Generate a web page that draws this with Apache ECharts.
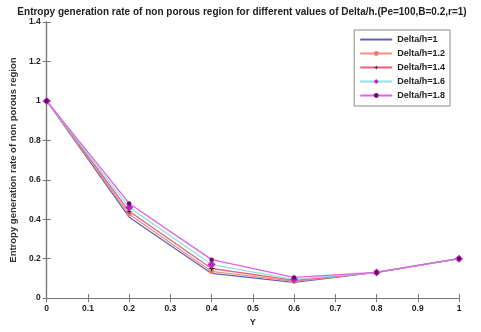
<!DOCTYPE html>
<html>
<head>
<meta charset="utf-8">
<script src="https://cdn.jsdelivr.net/npm/echarts@6/dist/echarts.min.js"></script>
<style>
  html, body { margin: 0; padding: 0; background: #fff; }
  #chart { width: 481px; height: 332px; }
</style>
</head>
<body>
<div id="chart"></div>
<script>
// Y positions sampled along the channel
const yPositions = [0, 0.2, 0.4, 0.6, 0.8, 1];

// Entropy generation rate for each Delta/h value
const ratio1_0 = [1, 0.41, 0.125, 0.080, 0.13, 0.2];
const ratio1_2 = [1, 0.425, 0.135, 0.085, 0.13, 0.2];
const ratio1_4 = [1, 0.44, 0.150, 0.090, 0.13, 0.2];
const ratio1_6 = [1, 0.46, 0.170, 0.095, 0.13, 0.2];
const ratio1_8 = [1, 0.48, 0.195, 0.105, 0.13, 0.2];

const seriesNames = ['Delta/h=1', 'Delta/h=1.2', 'Delta/h=1.4', 'Delta/h=1.6', 'Delta/h=1.8'];

const font = 'Arial, "Liberation Sans", sans-serif';
const pairs = vals => yPositions.map((x, i) => [x, vals[i]]);

// slim filled star used as a point marker
const starPath = 'path://M5,0L6,4L10,5L6,6L5,10L4,6L0,5L4,4Z';

function lineSeries(name, vals, color, symbol, symbolSize, markerColor, z) {
  return {
    name: name,
    type: 'line',
    data: pairs(vals),
    z: z,
    symbol: symbol,
    symbolSize: symbolSize,
    showSymbol: symbol !== 'none',
    lineStyle: { color: color, width: 1.3 },
    itemStyle: { color: markerColor, borderWidth: 0 },
    animation: false
  };
}

const chart = echarts.init(document.getElementById('chart'));

const axisLine = { show: true, lineStyle: { color: '#777', width: 1.2 } };
const axisTick = { show: true, inside: true, length: 4, lineStyle: { color: '#777' } };
const tickFormat = v => String(Math.round(v * 10) / 10);

chart.setOption({
  backgroundColor: '#fff',
  animation: false,
  title: {
    text: 'Entropy generation rate of non porous region for different values of Delta/h.(Pe=100,B=0.2,r=1)',
    left: 237,
    textAlign: 'center',
    top: 2,
    textStyle: { fontFamily: font, fontSize: 10, fontWeight: 'bold', color: '#222' }
  },
  legend: {
    data: [
      { name: seriesNames[0], itemStyle: { opacity: 0 } },
      { name: seriesNames[1] },
      { name: seriesNames[2] },
      { name: seriesNames[3] },
      { name: seriesNames[4] }
    ],
    orient: 'vertical',
    right: 31,
    top: 30,
    itemWidth: 32,
    itemHeight: 6,
    itemGap: 5,
    padding: [5, 5, 6, 5],
    borderColor: '#888',
    borderWidth: 1,
    backgroundColor: '#fff',
    textStyle: { fontFamily: font, fontSize: 9, fontWeight: 'bold', color: '#222' }
  },
  grid: { left: 41, right: 22, top: 22, bottom: 27 },
  xAxis: [{
    type: 'value',
    min: 0, max: 1, interval: 0.1,
    name: 'Y',
    nameLocation: 'middle',
    nameGap: 16,
    nameTextStyle: { fontFamily: font, fontSize: 9, fontWeight: 'bold', color: '#222' },
    axisLine: axisLine,
    axisTick: axisTick,
    splitLine: { show: false },
    axisLabel: { fontFamily: font, fontSize: 8.5, fontWeight: 'bold', color: '#222', margin: 6, formatter: tickFormat }
  }, {
    type: 'value', position: 'top',
    min: 0, max: 1, interval: 0.1,
    axisLine: axisLine, axisTick: axisTick,
    axisLabel: { show: false }, splitLine: { show: false }
  }],
  yAxis: [{
    type: 'value',
    min: 0, max: 1.4, interval: 0.2,
    name: 'Entropy generation rate of non porous region',
    nameLocation: 'middle',
    nameGap: 26,
    nameTextStyle: { fontFamily: font, fontSize: 9.5, fontWeight: 'bold', color: '#333' },
    axisLine: axisLine,
    axisTick: axisTick,
    splitLine: { show: false },
    axisLabel: { fontFamily: font, fontSize: 8.5, fontWeight: 'bold', color: '#222', margin: 6, formatter: tickFormat }
  }, {
    type: 'value', position: 'right',
    min: 0, max: 1.4, interval: 0.2,
    axisLine: axisLine, axisTick: axisTick,
    axisLabel: { show: false }, splitLine: { show: false }
  }],
  series: [
    lineSeries(seriesNames[0], ratio1_0, '#5a63b8', 'none', 0, '#5a63b8', 2),
    lineSeries(seriesNames[1], ratio1_2, '#f09080', 'circle', 5, '#f07a70', 3),
    lineSeries(seriesNames[2], ratio1_4, '#e8607a', starPath, 7, '#222', 4),
    lineSeries(seriesNames[3], ratio1_6, '#8de3e8', 'diamond', 8, '#c020c0', 5),
    lineSeries(seriesNames[4], ratio1_8, '#e060e8', 'circle', 4.5, '#6a0a6a', 6)
  ]
});
</script>
</body>
</html>
